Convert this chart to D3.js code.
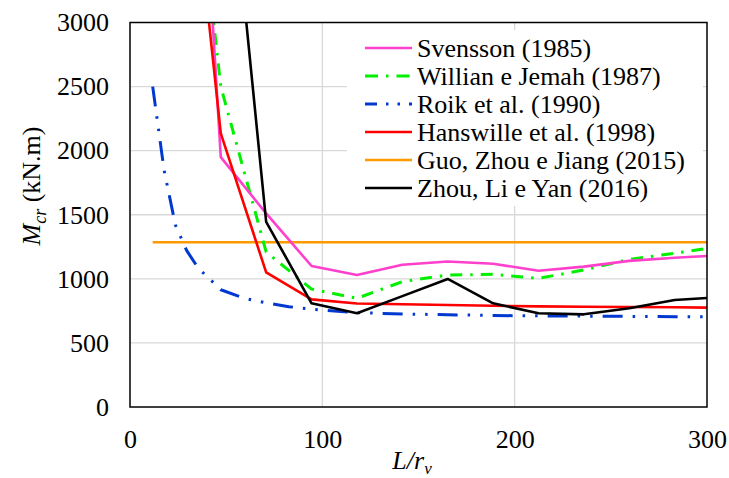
<!doctype html>
<html>
<head>
<style>
  body { margin: 0; background: white; }
  .grid line { stroke: #d9d9d9; stroke-width: 1.3; }
  .axis text { font-size: 26px; fill: #000; }
  .legend text { font-size: 26px; fill: #000; }
</style>
<script src="https://d3js.org/d3.v7.min.js"></script>
</head>
<body>
<script>

// L/r_v values where the curves were sampled
var lr = [35.4, 47.2, 70.8, 94.4, 118, 141.6, 165.2, 188.8, 212.4, 236, 259.6, 283.2, 300];

var svensson  = [4900, 1950, 1510, 1100, 1030, 1110, 1135, 1118, 1063, 1095, 1140, 1165, 1178];
var willian   = [4100, 2500, 1210,  920,  848,  978, 1030, 1035, 1004, 1069, 1152, 1199, 1238];
var hanswille = [3800, 2135, 1050,  840,  808,  802,  796,  790,  785,  782,  780,  778,  775];
var zhou      = [null, 5000, 1445,  809,  731,  865,  999,  809,  731,  723,  770,  835,  850];

// Roik et al. curve has its own, denser sampling
var lrRoik = [11.8, 17.7, 23.6, 29.5, 35.4, 47.2, 59, 70.8, 82.6, 94.4, 118, 141.6, 165.2, 188.8, 212.4, 236, 259.6, 283.2, 300];
var roik   = [2500, 1850, 1420, 1220, 1085, 915, 850, 812, 783, 762, 736, 726, 720, 714, 711, 709, 707, 705, 704];

// Guo, Zhou e Jiang is constant
var lrGuo = [11.8, 300];
var guo   = [1285, 1285];

var xTicks = [0, 100, 200, 300];
var yTicks = [0, 500, 1000, 1500, 2000, 2500, 3000];

var legendNames = ["Svensson (1985)", "Willian e Jemah (1987)", "Roik et al. (1990)",
                   "Hanswille et al. (1998)", "Guo, Zhou e Jiang (2015)", "Zhou, Li e Yan (2016)"];

var svg_width = 729, svg_height = 478;
var pLeft = 130, pTop = 22.5, pRight = 707, pBottom = 407;

var svg = d3.select("body").append("svg")
  .attr("width", svg_width)
  .attr("height", svg_height)
  .attr("font-family", "Liberation Serif");

svg.append("rect").attr("width", svg_width).attr("height", svg_height).attr("fill", "white");

var xScale = d3.scaleLinear().domain([0, 300]).range([pLeft, pRight]);
var yScale = d3.scaleLinear().domain([0, 3000]).range([pBottom, pTop]);

// gridlines
var grid = svg.append("g").attr("class", "grid");
grid.selectAll(".hg").data(yTicks.slice(1, -1)).enter().append("line")
  .attr("x1", pLeft).attr("x2", pRight)
  .attr("y1", function(d) { return yScale(d); })
  .attr("y2", function(d) { return yScale(d); });
grid.selectAll(".vg").data(xTicks.slice(1, -1)).enter().append("line")
  .attr("y1", pTop).attr("y2", pBottom)
  .attr("x1", function(d) { return xScale(d); })
  .attr("x2", function(d) { return xScale(d); });

// axes (labels only)
var xAxis = svg.append("g").attr("class", "axis")
  .attr("transform", "translate(0," + pBottom + ")")
  .call(d3.axisBottom(xScale).tickValues(xTicks).tickFormat(d3.format("d")).tickSize(0).tickPadding(23));
var yAxis = svg.append("g").attr("class", "axis")
  .attr("transform", "translate(" + pLeft + ",0)")
  .call(d3.axisLeft(yScale).tickValues(yTicks).tickFormat(d3.format("d")).tickSize(0).tickPadding(21));
xAxis.select(".domain").remove();
yAxis.select(".domain").remove();
svg.selectAll(".axis").attr("font-family", null).attr("font-size", null);

// series
svg.append("clipPath").attr("id", "clip").append("rect")
  .attr("x", pLeft).attr("y", pTop).attr("width", pRight - pLeft).attr("height", pBottom - pTop);

var plot = svg.append("g").attr("clip-path", "url(#clip)");

var series = [
  { xs: lr, ys: svensson, color: "#ff40cc", dash: null, w: 2.6 },
  { xs: lr, ys: willian, color: "#00f000", dash: "12,8,2.5,8", w: 3 },
  { xs: lrRoik, ys: roik, color: "#0038d0", dash: "20,10,2.5,10,2.5,10", w: 3 },
  { xs: lr, ys: hanswille, color: "#ff0000", dash: null, w: 2.6 },
  { xs: lrGuo, ys: guo, color: "#ff9900", dash: null, w: 2.6 },
  { xs: lr, ys: zhou, color: "#000000", dash: null, w: 2.6 }
];

var line = d3.line()
  .defined(function(d) { return d[1] != null; })
  .x(function(d) { return xScale(d[0]); })
  .y(function(d) { return yScale(d[1]); });

// draw order: guo under the others
[4, 2, 1, 0, 3, 5].forEach(function(i) {
  var s = series[i];
  var pts = s.xs.map(function(x, j) { return [x, s.ys[j]]; });
  plot.append("path")
    .attr("d", line(pts))
    .attr("fill", "none")
    .attr("stroke", s.color)
    .attr("stroke-width", s.w)
    .attr("stroke-dasharray", s.dash)
    .attr("stroke-linejoin", "round");
});

// plot border
svg.append("rect")
  .attr("x", pLeft).attr("y", pTop)
  .attr("width", pRight - pLeft).attr("height", pBottom - pTop)
  .attr("fill", "none").attr("stroke", "#000").attr("stroke-width", 1.5);

// legend
var legend = svg.append("g").attr("class", "legend");
legend.append("rect").attr("x", 347).attr("y", 30).attr("width", 356).attr("height", 176).attr("fill", "white");
legendNames.forEach(function(name, i) {
  var y = 48 + i * 28;
  var s = series[i];
  legend.append("line")
    .attr("x1", 365).attr("x2", 412).attr("y1", y).attr("y2", y)
    .attr("stroke", s.color).attr("stroke-width", s.w)
    .attr("stroke-dasharray", s.dash ? (i == 2 ? "12,9,2.5,9,2.5,9" : "13,8,2.5,8") : null);
  legend.append("text").attr("x", 417).attr("y", y + 9).text(name);
});

// axis titles
var xt = svg.append("text").attr("x", 412).attr("y", 469)
  .attr("text-anchor", "middle").attr("font-size", "26px").attr("font-style", "italic");
xt.append("tspan").text("L/r");
xt.append("tspan").attr("font-size", "17px").attr("dy", 5).text("v");

var yt = svg.append("text")
  .attr("transform", "translate(40,186) rotate(-90)")
  .attr("text-anchor", "middle").attr("font-size", "26px");
yt.append("tspan").attr("font-style", "italic").text("M");
yt.append("tspan").attr("font-style", "italic").attr("font-size", "18px").attr("dy", 6).text("cr");
yt.append("tspan").attr("dy", -6).text(" (kN.m)");

</script>
</body>
</html>
